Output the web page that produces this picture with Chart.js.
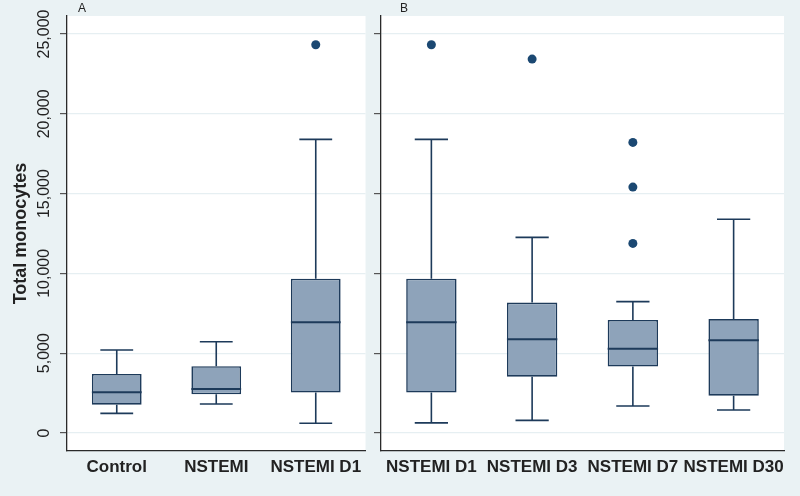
<!DOCTYPE html>
<html><head><meta charset="utf-8">
<script src="https://cdn.jsdelivr.net/npm/chart.js@4.4.0/dist/chart.umd.min.js"></script>
<style>
html,body{margin:0;padding:0;background:#EAF2F4;}
#wrap{position:relative;width:800px;height:496px;overflow:hidden;}
.pane{position:absolute;top:0;height:496px;}
</style></head><body>
<div id="wrap">
<div class="pane" style="left:0;width:370px"><canvas id="ca"></canvas></div>
<div class="pane" style="left:370px;width:430px"><canvas id="cb"></canvas></div>
</div>
<script>
// ---- data ----
const catsA  = ['Control', 'NSTEMI', 'NSTEMI D1'];
const lowA   = [1230, 1820, 610];
const q1A    = [1770, 2420, 2530];
const medA   = [2550, 2760, 6940];
const q3A    = [3700, 4180, 9670];
const highA  = [5200, 5720, 18400];
const outA   = [[], [], [24330]];

const catsB  = ['NSTEMI D1', 'NSTEMI D3', 'NSTEMI D7', 'NSTEMI D30'];
const lowB   = [630, 790, 1690, 1440];
const q1B    = [2530, 3530, 4160, 2340];
const medB   = [6940, 5870, 5280, 5810];
const q3B    = [9670, 8170, 7080, 7140];
const highB  = [18400, 12260, 8230, 13390];
const outB   = [[24330], [23430], [18210, 15410, 11880], []];

const yTicks = [0, 5000, 10000, 15000, 20000, 25000];
const yTitle = 'Total monocytes';
const panelLabels = ['A', 'B'];
// ---------------

const FILL = '#8EA3BA', LINE = '#1D3A5A', DOT = '#1B4872';
const AXIS = '#2a2a2a', GRID = '#E6EFF2', TXT = '#222';
const fmt = v => String(v).replace(/\B(?=(\d{3})+(?!\d))/g, ',');

const boxPlugin = {
  id: 'boxExtras',
  beforeDraw(chart) {
    const {ctx, chartArea: a} = chart;
    ctx.save();
    ctx.fillStyle = '#ffffff';
    ctx.fillRect(a.left, a.top, a.right - a.left, a.bottom - a.top);
    ctx.restore();
  },
  afterDatasetsDraw(chart) {
    const o = chart.options.plugins.boxExtras;
    const {ctx} = chart;
    const xs = chart.scales.x, ys = chart.scales.y;
    const meta = chart.getDatasetMeta(0);
    ctx.save();
    ctx.strokeStyle = LINE;
    ctx.lineCap = 'butt';
    o.low.forEach((lo, i) => {
      const el = meta.data[i];
      const x = xs.getPixelForValue(i);
      const hw = el.width / 2;
      const cap = hw * 0.66;
      const yq1 = ys.getPixelForValue(o.q1[i]), yq3 = ys.getPixelForValue(o.q3[i]);
      const ylo = ys.getPixelForValue(lo), yhi = ys.getPixelForValue(o.high[i]);
      const ym = ys.getPixelForValue(o.med[i]);
      ctx.lineWidth = 1.6;
      ctx.beginPath();
      ctx.moveTo(x, yq3); ctx.lineTo(x, yhi);
      ctx.moveTo(x - cap, yhi); ctx.lineTo(x + cap, yhi);
      ctx.moveTo(x, yq1); ctx.lineTo(x, ylo);
      ctx.moveTo(x - cap, ylo); ctx.lineTo(x + cap, ylo);
      ctx.stroke();
      ctx.lineWidth = 2;
      ctx.beginPath();
      ctx.moveTo(x - hw, ym); ctx.lineTo(x + hw, ym);
      ctx.stroke();
    });
    ctx.restore();
  },
  afterDraw(chart) {
    const o = chart.options.plugins.boxExtras;
    const {ctx, chartArea: a} = chart;
    const ys = chart.scales.y;
    ctx.save();
    ctx.fillStyle = TXT;
    ctx.font = '12px "Liberation Sans", Arial, sans-serif';
    ctx.textAlign = 'left';
    ctx.textBaseline = 'middle';
    ctx.fillText(o.panel, a.left + o.panelDx, 9);
    if (o.showLabels) {
      ctx.font = '16px "Liberation Sans", Arial, sans-serif';
      ctx.textAlign = 'center';
      ctx.textBaseline = 'middle';
      yTicks.forEach(v => {
        const y = ys.getPixelForValue(v);
        ctx.save();
        ctx.translate(45, y);
        ctx.rotate(-Math.PI / 2);
        ctx.fillText(fmt(v), 0, 0);
        ctx.restore();
      });
      ctx.font = 'bold 18px "Liberation Sans", Arial, sans-serif';
      ctx.save();
      ctx.translate(21, (a.top + a.bottom) / 2);
      ctx.rotate(-Math.PI / 2);
      ctx.fillText(yTitle, 0, 0);
      ctx.restore();
    }
    ctx.restore();
  }
};

function makeChart(id, cats, low, q1, med, q3, high, outs, yWidth, padRight, panel, panelDx, showLabels) {
  const outPts = [];
  outs.forEach((arr, i) => arr.forEach(v => outPts.push({x: cats[i], y: v})));
  return new Chart(document.getElementById(id), {
    type: 'bar',
    data: {
      labels: cats,
      datasets: [
        {
          type: 'bar',
          data: q1.map((v, i) => [v, q3[i]]),
          backgroundColor: FILL,
          borderColor: LINE,
          borderWidth: 1.6,
          borderSkipped: false,
          categoryPercentage: 1,
          barPercentage: 0.5
        },
        {
          type: 'line',
          data: outPts,
          showLine: false,
          pointRadius: 4.5,
          pointBackgroundColor: DOT,
          pointBorderColor: DOT,
          pointBorderWidth: 0
        }
      ]
    },
    options: {
      responsive: true,
      maintainAspectRatio: false,
      animation: false,
      layout: {padding: {top: 16, right: padRight, left: 0, bottom: 0}},
      plugins: {
        legend: {display: false},
        tooltip: {enabled: false},
        boxExtras: {low, q1, med, q3, high, panel, panelDx, showLabels}
      },
      scales: {
        x: {
          type: 'category',
          offset: true,
          grid: {display: false, drawTicks: false},
          border: {display: true, color: AXIS, width: 1.3},
          ticks: {
            color: TXT,
            padding: 6,
            maxRotation: 0,
            autoSkip: false,
            font: {family: '"Liberation Sans", Arial, sans-serif', size: 17, weight: 'bold'}
          },
          afterFit: s => { s.height = 45; }
        },
        y: {
          type: 'linear',
          min: -1130,
          max: 26130,
          afterBuildTicks: s => { s.ticks = yTicks.map(v => ({value: v})); },
          ticks: {display: false},
          grid: {color: GRID, lineWidth: 1.2, tickColor: '#555', tickLength: 7, drawTicks: true},
          border: {display: true, color: AXIS, width: 1.3},
          afterFit: s => { s.width = yWidth; }
        }
      }
    },
    plugins: [boxPlugin]
  });
}

makeChart('ca', catsA, lowA, q1A, medA, q3A, highA, outA, 67, 2, panelLabels[0], 11, true);
makeChart('cb', catsB, lowB, q1B, medB, q3B, highB, outB, 11, 16, panelLabels[1], 19, false);
</script>
</body></html>
